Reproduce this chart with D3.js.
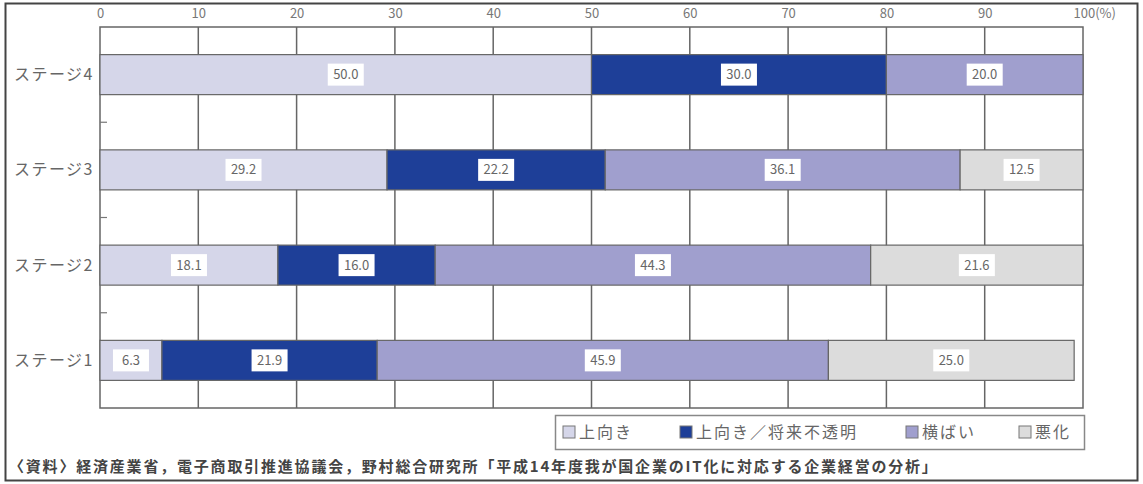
<!DOCTYPE html>
<html>
<head>
<meta charset="utf-8">
<script src="https://cdn.jsdelivr.net/npm/d3@7"></script>
<style>
  body { margin: 0; background: #fff; }
  svg { display: block; }
  text { font-family: "Noto Sans CJK JP", "Noto Sans", sans-serif; }
</style>
</head>
<body>
<svg id="chart" width="1143" height="484"></svg>
<script>
// Stages, top to bottom
const stages = ["ステージ4", "ステージ3", "ステージ2", "ステージ1"];
// Response categories (stack order, left to right)
const seriesNames = ["上向き", "上向き／将来不透明", "横ばい", "悪化"];
// Percentages per stage, one array per category
const upward        = [50.0, 29.2, 18.1, 6.3];
const upwardUnclear = [30.0, 22.2, 16.0, 21.9];
const flat          = [20.0, 36.1, 44.3, 45.9];
const worse         = [0.0, 12.5, 21.6, 25.0];
const xTicks = [0, 10, 20, 30, 40, 50, 60, 70, 80, 90, 100];
const sourceNote = "〈資料〉経済産業省，電子商取引推進協議会，野村総合研究所「平成14年度我が国企業のIT化に対応する企業経営の分析」";

const colors = ["#d5d6e9", "#1e3f98", "#a09fce", "#dcdcdc"];
const seriesValues = [upward, upwardUnclear, flat, worse];

const rows = stages.map((s, i) => {
  const r = { stage: s };
  seriesNames.forEach((n, k) => { r[n] = seriesValues[k][i]; });
  return r;
});
const stacked = d3.stack().keys(seriesNames)(rows);

const svg = d3.select("#chart");
const W = 1143, H = 484;
const m = { left: 100, right: 1083, top: 27, bottom: 408 };

// outer frame
svg.append("rect").attr("x", 5.5).attr("y", 3.5).attr("width", W - 11).attr("height", H - 7)
  .attr("fill", "#fff").attr("stroke", "#444").attr("stroke-width", 2);

const x = d3.scaleLinear().domain([0, 100]).range([m.left, m.right]);
const y = d3.scaleBand().domain(stages).range([m.top, m.bottom]).paddingInner(0.58).paddingOuter(0.29);

// plot frame and vertical gridlines
svg.append("rect").attr("x", m.left).attr("y", m.top).attr("width", m.right - m.left)
  .attr("height", m.bottom - m.top).attr("fill", "#fff").attr("stroke", "#666").attr("stroke-width", 1.5);
svg.append("g").selectAll("line").data(xTicks.slice(1, -1)).join("line")
  .attr("x1", d => x(d)).attr("x2", d => x(d)).attr("y1", m.top).attr("y2", m.bottom)
  .attr("stroke", "#666").attr("stroke-width", 1.5);

// small tick marks between stages
const step = y.step();
svg.append("g").selectAll("line").data(stages.slice(1)).join("line")
  .attr("x1", m.left).attr("x2", m.left + 7)
  .attr("y1", d => y(d) - (step - y.bandwidth()) / 2)
  .attr("y2", d => y(d) - (step - y.bandwidth()) / 2)
  .attr("stroke", "#777").attr("stroke-width", 1.2);

// top axis
const axis = d3.axisTop(x).tickValues(xTicks).tickSize(0).tickPadding(0)
  .tickFormat(d => d === 100 ? "100(%)" : d);
const ax = svg.append("g").attr("transform", `translate(0,${m.top - 9})`).call(axis);
ax.select(".domain").remove();
ax.selectAll("text").attr("fill", "#777").attr("font-size", 13)
  .attr("text-anchor", d => d === 100 ? "start" : "middle")
  .attr("dx", d => d === 100 ? -10 : 0);

// stacked bars
const layers = svg.append("g").selectAll("g").data(stacked).join("g")
  .attr("fill", (d, i) => colors[i]);
layers.selectAll("rect").data(d => d.filter(p => p[1] - p[0] > 0)).join("rect")
  .attr("x", d => x(d[0])).attr("width", d => x(d[1]) - x(d[0]))
  .attr("y", d => y(d.data.stage)).attr("height", y.bandwidth())
  .attr("stroke", "#666").attr("stroke-width", 1.2);

// value labels in white boxes
const labels = svg.append("g").selectAll("g")
  .data(stacked.flatMap(s => s.filter(p => p[1] - p[0] > 0).map(p => ({ p, v: p.data[s.key] }))))
  .join("g")
  .attr("transform", d => `translate(${x((d.p[0] + d.p[1]) / 2)},${y(d.p.data.stage) + y.bandwidth() / 2})`);
labels.append("rect").attr("x", -18).attr("y", -11).attr("width", 36).attr("height", 22).attr("fill", "#fff");
labels.append("text").attr("text-anchor", "middle").attr("dy", "0.35em")
  .attr("font-size", 13).attr("fill", "#666").text(d => d.v.toFixed(1));

// stage labels
svg.append("g").selectAll("text").data(stages).join("text")
  .attr("x", 94).attr("y", d => y(d) + y.bandwidth() / 2).attr("dy", "0.35em")
  .attr("text-anchor", "end").attr("font-size", 16).attr("letter-spacing", 1.5)
  .attr("fill", "#666").text(d => d);

// legend
const lg = svg.append("g");
lg.append("rect").attr("x", 555.5).attr("y", 415.5).attr("width", 529).attr("height", 34)
  .attr("fill", "#fff").attr("stroke", "#888").attr("stroke-width", 1.5);
const legendX = [563, 680, 906, 1019];
const items = lg.selectAll("g").data(seriesNames).join("g")
  .attr("transform", (d, i) => `translate(${legendX[i]},432)`);
items.append("rect").attr("x", 0).attr("y", -6).attr("width", 12).attr("height", 12)
  .attr("fill", (d, i) => colors[i]).attr("stroke", "#777").attr("stroke-width", 1);
items.append("text").attr("x", 16).attr("dy", "0.36em").attr("font-size", 16)
  .attr("letter-spacing", 2).attr("fill", "#666").text(d => d);

// source note
svg.append("text").attr("x", 9).attr("y", 467).attr("dy", "0.35em")
  .attr("font-size", 15).attr("letter-spacing", 1.8).attr("font-weight", "bold")
  .attr("fill", "#444").text(sourceNote);
</script>
</body>
</html>
